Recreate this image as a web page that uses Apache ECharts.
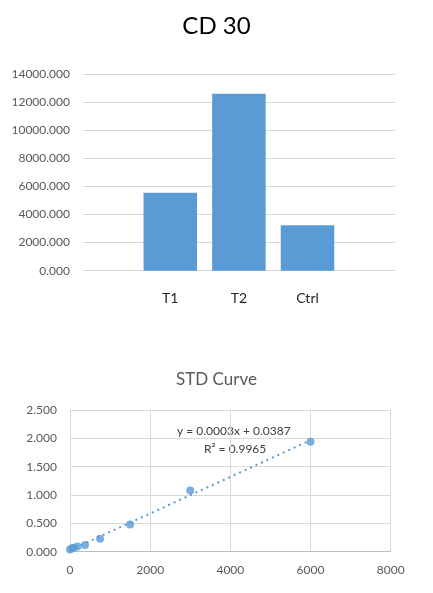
<!DOCTYPE html>
<html><head><meta charset="utf-8">
<script src="https://cdn.jsdelivr.net/npm/echarts@6/dist/echarts.min.js"></script>
<style>html,body{margin:0;padding:0;background:#fff}#c{width:433px;height:593px}</style>
</head><body><div id="c"></div>
<script>
// --- Data ---
const barCategories = ['T1', 'T2', 'Ctrl'];
const barValues = [5550, 12600, 3230];
const barAxisMax = 14000;
const barAxisStep = 2000;

const stdX = [0, 46.875, 93.75, 187.5, 375, 750, 1500, 3000, 6000];
const stdY = [0.04, 0.06, 0.07, 0.09, 0.12, 0.23, 0.48, 1.08, 1.94];
const stdXMax = 8000, stdXStep = 2000;
const stdYMax = 2.5, stdYStep = 0.5;
const eqText = 'y = 0.0003x + 0.0387';
const r2Text = 'R² = 0.9965';

// least-squares trend line (as Excel's linear trendline)
const n = stdX.length;
const mx = stdX.reduce((a, b) => a + b, 0) / n;
const my = stdY.reduce((a, b) => a + b, 0) / n;
let sxy = 0, sxx = 0;
for (let i = 0; i < n; i++) { sxy += (stdX[i] - mx) * (stdY[i] - my); sxx += (stdX[i] - mx) ** 2; }
const slope = sxy / sxx, intercept = my - slope * mx;
const xMin = Math.min(...stdX), xMax = Math.max(...stdX);
const trend = [[xMin, intercept + slope * xMin], [xMax, intercept + slope * xMax]];

const FONT = 'Lato';
const BLUE = '#5B9BD5';
const GRIDC = '#D9D9D9';

const chart = echarts.init(document.getElementById('c'), null, { renderer: 'canvas' });
chart.setOption({
  backgroundColor: '#fff',
  textStyle: { fontFamily: FONT },
  title: [
    { text: 'CD 30', left: 'center', top: 9, textStyle: { fontFamily: FONT, fontSize: 24, fontWeight: 'normal', color: '#000' } },
    { text: 'STD Curve', left: 'center', top: 366, textStyle: { fontFamily: FONT, fontSize: 17, fontWeight: 'normal', color: '#595959' } }
  ],
  grid: [
    { left: 83, right: 38, top: 74, bottom: 322.3 },      // 0: value-axis background grid (top)
    { left: 136, right: 91.2, top: 74, bottom: 322.3 },   // 1: bars
    { left: 70, right: 42.3, top: 410, bottom: 41.3 }     // 2: STD curve
  ],
  xAxis: [
    { gridIndex: 0, type: 'value', min: 0, max: 1, show: false },
    { gridIndex: 1, type: 'category', data: barCategories,
      axisLine: { show: false }, axisTick: { show: false },
      axisLabel: { margin: 21, fontSize: 14, color: '#262626', fontFamily: FONT } },
    { gridIndex: 2, type: 'value', min: 0, max: stdXMax, interval: stdXStep,
      axisLine: { show: true, lineStyle: { color: '#BFBFBF' } }, axisTick: { show: false },
      splitLine: { show: true, lineStyle: { color: GRIDC } },
      axisLabel: { margin: 12, fontSize: 12, color: '#595959', fontFamily: FONT, formatter: v => String(v) } }
  ],
  yAxis: [
    { gridIndex: 0, type: 'value', min: 0, max: barAxisMax, interval: barAxisStep,
      axisLine: { show: false }, axisTick: { show: false },
      splitLine: { show: true, lineStyle: { color: GRIDC } },
      axisLabel: { margin: 13, fontSize: 12, color: '#595959', fontFamily: FONT, formatter: v => v.toFixed(3) } },
    { gridIndex: 1, type: 'value', min: 0, max: barAxisMax, interval: barAxisStep, show: false },
    { gridIndex: 2, type: 'value', min: 0, max: stdYMax, interval: stdYStep,
      axisLine: { show: false }, axisTick: { show: false },
      splitLine: { show: true, lineStyle: { color: GRIDC } },
      axisLabel: { margin: 13, fontSize: 12, color: '#595959', fontFamily: FONT, formatter: v => v.toFixed(3) } }
  ],
  series: [
    { type: 'bar', xAxisIndex: 1, yAxisIndex: 1, data: barValues, barWidth: '78%',
      itemStyle: { color: BLUE }, silent: true },
    { type: 'line', xAxisIndex: 2, yAxisIndex: 2, data: trend, showSymbol: false, symbol: 'none',
      lineStyle: { color: BLUE, width: 2, type: [2, 4] }, silent: true, z: 1 },
    { type: 'scatter', xAxisIndex: 2, yAxisIndex: 2, data: stdX.map((x, i) => [x, stdY[i]]),
      symbolSize: 8, itemStyle: { color: BLUE }, silent: true, z: 2 }
  ],
  graphic: [
    { type: 'text', left: 177, top: 425, style: { text: eqText, fontFamily: FONT, fontSize: 12, fill: '#404040' } },
    { type: 'text', left: 204, top: 443, style: { text: r2Text, fontFamily: FONT, fontSize: 12, fill: '#404040' } }
  ],
  animation: false
});
</script>
</body></html>
